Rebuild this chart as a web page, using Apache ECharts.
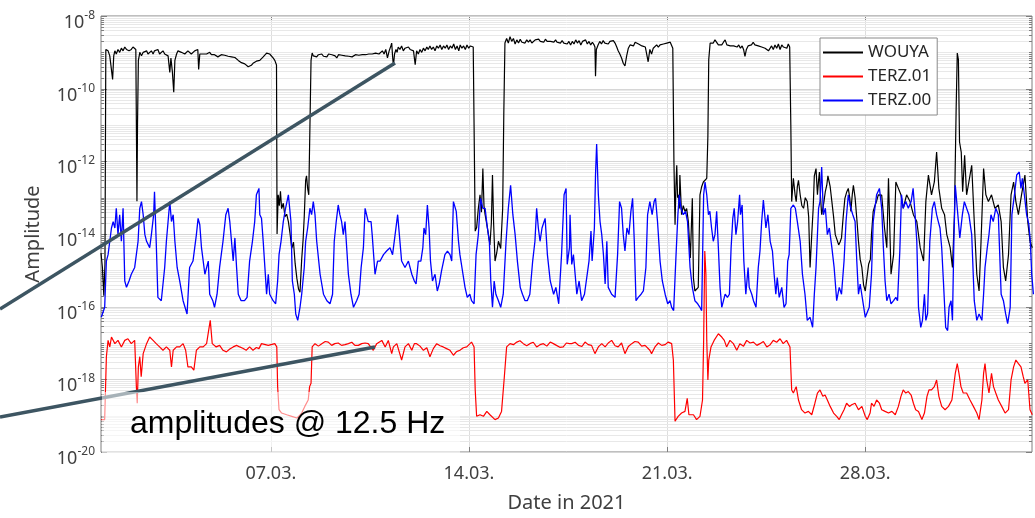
<!DOCTYPE html>
<html>
<head>
<meta charset="utf-8">
<script src="https://cdn.jsdelivr.net/npm/echarts@6/dist/echarts.min.js"></script>
<style>
html,body{margin:0;padding:0;background:#fff;}
#chart{width:1035px;height:518px;}
</style>
</head>
<body>
<div id="chart"></div>
<script>
// x values: day of March 2021 (1.0 = 01.03. 00:00)
const X_MIN = 1.0;
const X_MAX = 33.89;
const xTickDays = [7, 14, 21, 28];
const xTickLabels = ['07.03.', '14.03.', '21.03.', '28.03.'];
const yTickExps = [-20, -18, -16, -14, -12, -10, -8];
const seriesNames = ['WOUYA', 'TERZ.01', 'TERZ.00'];

const wouya = [
[1.00,3e-15],[1.05,1.2e-15],[1.10,2e-16],[1.14,1.5e-15],[1.17,1.2e-9],[1.25,1.1e-9],[1.31,8e-10],[1.37,9e-10],[1.41,1.8e-10],[1.45,8e-10],[1.49,1.1e-9],[1.54,9e-10],[1.60,1.2e-9],[1.66,1e-9],[1.72,1.3e-9],[1.78,1.1e-9],[1.84,1.4e-9],[1.90,1.2e-9],[1.95,1.3e-9],[1.99,1.1e-9],[2.07,1.2e-9],[2.13,1.4e-9],[2.19,1.3e-9],[2.23,1.2e-9],[2.25,1e-11],[2.27,8e-14],[2.29,1e-11],[2.32,6e-10],[2.35,8e-10],[2.37,1e-9],[2.43,8e-10],[2.49,1e-9],[2.55,9e-10],[2.61,1.1e-9],[2.66,9e-10],[2.72,1e-9],[2.78,1.1e-9],[2.84,9e-10],[2.89,1.1e-9],[2.95,1e-9],[3.01,1.2e-9],[3.07,9e-10],[3.13,1e-9],[3.19,1.1e-9],[3.25,9e-10],[3.31,1e-9],[3.37,8e-10],[3.43,2.8e-10],[3.47,7e-10],[3.52,3e-10],[3.57,8e-11],[3.61,6e-10],[3.67,9e-10],[3.72,1.1e-9],[3.78,1e-9],[3.84,1e-9],[3.90,1.1e-9],[3.96,9e-10],[4.02,1e-9],[4.07,1.1e-9],[4.13,1e-9],[4.19,9e-10],[4.25,1e-9],[4.31,1.1e-9],[4.37,1e-9],[4.42,1.2e-9],[4.45,3.4e-10],[4.49,9e-10],[4.55,1e-9],[4.61,9e-10],[4.67,1e-9],[4.73,9e-10],[4.79,9.5e-10],[4.84,1e-9],[4.90,8.6e-10],[4.95,9e-10],[5.01,8.6e-10],[5.07,8e-10],[5.13,7.5e-10],[5.19,8e-10],[5.25,8.6e-10],[5.31,7.8e-10],[5.37,8.3e-10],[5.43,7.5e-10],[5.49,7.8e-10],[5.55,7e-10],[5.61,7.5e-10],[5.67,6.8e-10],[5.73,7.2e-10],[5.79,6.5e-10],[5.85,6e-10],[5.90,5.6e-10],[5.96,5.2e-10],[6.02,5.5e-10],[6.08,4.8e-10],[6.14,4.4e-10],[6.20,4e-10],[6.25,3.6e-10],[6.31,4.4e-10],[6.37,5e-10],[6.43,5.2e-10],[6.49,5.7e-10],[6.55,5.5e-10],[6.61,6e-10],[6.67,6.6e-10],[6.73,7.5e-10],[6.79,8e-10],[6.85,9.5e-10],[6.91,1.05e-9],[6.96,9e-10],[7.02,8e-10],[7.08,7e-10],[7.14,6e-10],[7.20,4.5e-10],[7.22,1e-14],[7.26,1.2e-13],[7.30,6e-14],[7.34,1.5e-13],[7.38,5e-14],[7.44,7e-14],[7.50,3e-14],[7.56,3.5e-14],[7.62,2.2e-14],[7.68,1e-14],[7.74,4e-15],[7.80,6e-15],[7.86,1.5e-15],[7.92,6e-16],[7.98,3e-16],[8.03,2.5e-16],[8.09,2e-15],[8.14,7e-15],[8.18,3e-14],[8.23,3e-13],[8.26,4e-13],[8.30,1.8e-13],[8.34,1.2e-13],[8.38,1.2e-13],[8.42,6e-10],[8.46,9.6e-10],
[8.50,8e-10],[8.56,9e-10],[8.62,7.5e-10],[8.68,8.6e-10],[8.74,8e-10],[8.80,9e-10],[8.86,7.8e-10],[8.92,8.3e-10],[8.98,7.5e-10],[9.04,9e-10],[9.10,8e-10],[9.16,8.6e-10],[9.21,7.6e-10],[9.27,8e-10],[9.33,7e-10],[9.39,8.6e-10],[9.45,7.8e-10],[9.51,8.3e-10],[9.57,7.5e-10],[9.63,8e-10],[9.69,8.6e-10],[9.75,7.8e-10],[9.81,8.3e-10],[9.87,7.5e-10],[9.93,8e-10],[9.99,8.6e-10],[10.05,7.8e-10],[10.11,8.3e-10],[10.17,7.8e-10],[10.23,8.6e-10],[10.29,8e-10],[10.35,8.6e-10],[10.40,8e-10],[10.46,9e-10],[10.52,8.3e-10],[10.58,9e-10],[10.64,8.6e-10],[10.70,9.5e-10],[10.76,8.6e-10],[10.82,9e-10],[10.88,9.6e-10],[10.94,1.1e-9],[11.00,9e-10],[11.06,1.2e-9],[11.12,7e-10],[11.18,1.1e-9],[11.24,1.5e-9],[11.27,1.8e-9],[11.30,8e-10],[11.33,4.2e-10],[11.37,9e-10],[11.42,1.2e-9],[11.46,1e-9],[11.50,1.4e-9],[11.56,1.2e-9],[11.62,1.5e-9],[11.68,1.1e-9],[11.74,1.3e-9],[11.80,1.2e-9],[11.86,1.4e-9],[11.92,1.2e-9],[11.98,1.3e-9],[12.04,1.1e-9],
[12.10,4.6e-10],[12.15,1.1e-9],[12.21,9e-10],[12.27,1.2e-9],[12.33,1e-9],[12.39,1.3e-9],[12.45,1.1e-9],[12.51,1.4e-9],[12.56,1.2e-9],[12.62,1.5e-9],[12.68,1.2e-9],[12.74,1.4e-9],[12.80,1.1e-9],[12.86,1.5e-9],[12.92,1.3e-9],[12.98,1.6e-9],[13.04,1.2e-9],[13.10,1.5e-9],[13.16,1.3e-9],[13.22,1.6e-9],[13.28,1.2e-9],[13.34,1.5e-9],[13.40,1.3e-9],[13.46,1.7e-9],[13.52,1.2e-9],[13.58,1.5e-9],[13.64,1.1e-9],[13.69,1.6e-9],[13.75,1.3e-9],[13.81,1.5e-9],[13.87,1.2e-9],[13.93,1.6e-9],[13.99,1.3e-9],[14.05,1.5e-9],[14.11,1.6e-9],[14.15,1.4e-9],
[14.22,1.2e-14],[14.27,1.5e-14],[14.33,5e-14],[14.39,1.2e-13],[14.44,4e-14],[14.49,6.3e-13],[14.53,6e-14],[14.57,3.4e-14],[14.65,1.5e-14],[14.74,5e-15],[14.79,2e-14],[14.83,4.2e-13],[14.87,2e-14],[14.92,1.8e-15],[14.98,3e-15],[15.04,6.3e-15],[15.12,4e-15],[15.19,5e-14],[15.23,2e-11],[15.27,1.8e-9],
[15.33,2.4e-9],[15.39,1.8e-9],[15.45,2.7e-9],[15.51,2e-9],[15.57,2.4e-9],[15.63,1.7e-9],[15.69,2.2e-9],[15.75,1.8e-9],[15.81,2.3e-9],[15.87,1.9e-9],[15.92,2.1e-9],[15.98,1.8e-9],[16.04,2.2e-9],[16.10,1.9e-9],[16.16,2.2e-9],[16.22,1.8e-9],[16.28,2e-9],[16.34,2.2e-9],[16.40,2e-9],[16.46,2.3e-9],[16.52,2e-9],[16.58,2.2e-9],[16.64,1.9e-9],[16.70,2.3e-9],[16.76,2e-9],[16.82,2.2e-9],[16.88,2e-9],[16.94,2.1e-9],[17.00,1.9e-9],[17.06,2.2e-9],[17.11,1.9e-9],[17.17,2.1e-9],[17.23,1.8e-9],[17.29,2.1e-9],[17.35,1.8e-9],[17.41,2e-9],[17.47,1.7e-9],[17.53,2e-9],
[17.59,1.6e-9],[17.65,2e-9],[17.71,1.7e-9],[17.77,2.2e-9],[17.83,1.8e-9],[17.89,2.1e-9],[17.95,1.6e-9],[18.01,2e-9],[18.07,1.8e-9],[18.12,2.2e-9],[18.18,1.7e-9],[18.24,2e-9],[18.30,1.6e-9],[18.36,1.9e-9],[18.42,1.6e-9],[18.45,1.4e-9],[18.47,2.2e-10],[18.50,1.2e-9],[18.56,1.6e-9],[18.62,2e-9],[18.68,1.7e-9],[18.74,2.1e-9],[18.80,1.8e-9],[18.86,2e-9],[18.92,1.7e-9],[18.98,2e-9],[19.04,1.8e-9],[19.10,2.1e-9],[19.16,1.8e-9],[19.22,1.4e-9],[19.27,1.1e-9],[19.33,9e-10],[19.39,7e-10],[19.45,5e-10],[19.51,4.2e-10],[19.57,8e-10],[19.63,1.3e-9],[19.69,1.6e-9],[19.75,1.8e-9],[19.81,1.5e-9],[19.87,1.9e-9],[19.93,2e-9],[19.99,1.7e-9],[20.05,1.9e-9],[20.11,1.5e-9],[20.17,1.7e-9],[20.23,1.4e-9],[20.29,8e-10],[20.33,5.5e-10],[20.39,1.2e-9],[20.45,9e-10],[20.51,1.3e-9],[20.57,1.2e-9],[20.63,1.6e-9],[20.69,1.4e-9],[20.75,1.6e-9],[20.81,1.5e-9],[20.87,1.7e-9],[20.93,1.7e-9],[20.99,1.8e-9],[21.05,1.8e-9],[21.11,1.9e-9],[21.17,1.7e-9],[21.20,1.3e-9],
[21.24,1e-12],[21.28,1.8e-14],[21.31,2e-13],[21.34,7.8e-13],[21.37,1e-13],[21.40,1.2e-13],[21.43,5e-14],[21.45,4.2e-13],[21.51,3.4e-14],[21.57,6e-14],[21.63,4.2e-14],[21.69,5e-14],[21.75,2.2e-14],[21.82,2.2e-15],[21.89,9.6e-14],[21.93,6e-16],[21.98,2.7e-16],[22.04,3e-16],[22.10,3.4e-16],[22.16,1.2e-13],[22.22,2e-13],[22.28,2.7e-13],[22.34,3e-13],[22.40,3.4e-13],[22.44,5e-12],[22.47,6.3e-10],[22.52,1.8e-9],[22.57,2e-9],[22.63,1.8e-9],[22.69,2.2e-9],[22.75,2e-9],[22.81,1.6e-9],[22.87,1.8e-9],[22.93,1.6e-9],[22.99,1.9e-9],
[23.05,2.2e-9],[23.11,1.6e-9],[23.17,1.8e-9],[23.23,1.5e-9],[23.29,1.7e-9],[23.35,1.5e-9],[23.41,1.6e-9],[23.47,1.4e-9],[23.53,1.6e-9],[23.59,1.3e-9],[23.65,1.5e-9],[23.70,1.2e-9],[23.75,7.8e-10],[23.80,1.2e-9],[23.86,1.5e-9],[23.92,1.7e-9],[23.98,1.6e-9],[24.04,1.9e-9],[24.10,1.6e-9],[24.16,1.7e-9],[24.22,1.5e-9],[24.28,1.6e-9],[24.34,1.4e-9],[24.40,1.5e-9],[24.46,1.3e-9],[24.52,1.4e-9],[24.58,1.1e-9],[24.64,1.3e-9],[24.69,1.5e-9],[24.75,1.2e-9],[24.81,1.6e-9],[24.87,1.3e-9],[24.93,1.7e-9],[24.99,1.2e-9],[25.05,1.6e-9],[25.11,1.4e-9],[25.17,1.5e-9],[25.23,1.3e-9],[25.28,1.7e-9],[25.33,1.4e-9],
[25.37,1e-11],[25.40,7.8e-14],[25.46,3.4e-13],[25.52,1.2e-13],[25.56,7.8e-14],[25.60,2e-13],[25.64,3e-13],[25.70,1.2e-13],[25.76,6e-14],[25.82,5.1e-14],[25.88,1e-13],[25.95,7.8e-14],[26.00,3e-14],[26.05,1.2e-15],[26.11,1e-14],[26.16,5.1e-14],[26.20,4e-13],[26.26,6.3e-13],[26.31,1.2e-13],[26.35,3e-13],[26.38,5.1e-13],[26.42,1e-13],[26.46,3.4e-14],[26.50,5e-14],[26.54,7.8e-14],[26.59,1.5e-13],[26.64,2.2e-13],[26.68,4e-13],[26.73,4.2e-13],[26.76,2e-13],[26.82,7.8e-14],[26.88,3e-14],[26.94,9.6e-15],[27.00,7e-15],[27.06,5e-15],[27.11,6e-15],[27.16,7.8e-15],[27.22,3e-14],[27.28,9.6e-14],[27.34,1.4e-13],[27.40,1.8e-13],[27.45,1e-13],[27.49,4.2e-14],[27.54,1.2e-13],[27.58,2.2e-13],[27.64,1e-13],[27.70,2.7e-14],[27.76,6.3e-15],[27.82,2e-15],[27.88,1.2e-15],[27.94,4e-16],[28.00,2.7e-16],[28.06,3e-16],[28.12,1.5e-15],[28.18,2e-15],[28.22,1e-14],[28.28,4.2e-14],[28.34,6e-14],[28.40,8e-14],[28.46,1.2e-13],
[28.58,1.18e-13],[28.68,1.46e-14],[28.76,4.2e-15],[28.82,3.4e-13],[28.91,7.8e-16],[29.00,2.7e-15],[29.08,2.7e-13],[29.17,1.8e-13],[29.26,1.2e-13],[29.34,5.1e-14],[29.46,1.2e-13],[29.58,7.8e-14],[29.70,3.4e-14],[29.82,2.2e-14],[29.94,4.2e-15],[30.06,1.8e-15],[30.14,7.8e-14],[30.23,4.2e-13],[30.34,1.2e-13],[30.44,2.7e-13],[30.52,1.8e-12],[30.60,1.8e-13],[30.70,5.1e-14],[30.80,3.4e-14],[30.88,9.6e-15],[31.00,4.2e-15],[31.08,1.2e-15],[31.15,3.4e-14],[31.21,2.7e-11],[31.25,9.6e-10],[31.29,6.3e-10],[31.33,3.4e-12],[31.39,1.8e-12],[31.44,1.46e-13],[31.51,1.46e-12],[31.58,1.2e-13],[31.66,2.7e-13],[31.76,7.8e-13],[31.85,2.2e-14],[31.94,7.8e-16],[32.02,2.7e-16],[32.09,6.3e-15],[32.18,6.3e-13],[32.26,1.2e-13],[32.35,7.8e-14],[32.46,1.2e-13],[32.58,5.1e-14],[32.70,6.3e-14],[32.80,2.2e-14],[32.88,1.2e-15],[32.96,5.1e-16],[33.06,2.7e-15],[33.15,1.2e-13],[33.24,2.7e-13],[33.32,7.8e-14],[33.41,3.4e-14],[33.52,1.2e-13],[33.64,4.2e-13],[33.74,2.2e-14],[33.82,6.3e-15],[33.90,4.2e-15]
];

const terz01 = [
[1.01,7.8e-20],[1.13,7.8e-20],[1.19,4.2e-18],[1.25,1.18e-17],[1.31,7.8e-18],[1.37,1.46e-17],[1.49,9.6e-18],[1.60,1.18e-17],[1.72,7.8e-18],[1.84,1.18e-17],[1.95,1.31e-17],[2.07,9.6e-18],[2.19,1.18e-17],[2.25,6.3e-19],[2.28,2.2e-19],[2.32,2.2e-18],[2.37,4.2e-18],[2.42,1.18e-18],[2.49,5.1e-18],[2.61,9.6e-18],[2.72,1.46e-17],[2.84,1.18e-17],[2.95,9.6e-18],[3.07,7.8e-18],[3.19,6.3e-18],[3.31,7.8e-18],[3.43,6.3e-18],[3.49,2.2e-18],[3.55,6.3e-18],[3.67,7.8e-18],[3.78,7.8e-18],[3.90,9.6e-18],[3.99,6.3e-18],[4.07,2.2e-18],[4.19,2.2e-18],[4.28,1.8e-18],[4.37,6.3e-18],[4.49,7.8e-18],[4.61,7.8e-18],[4.73,9.6e-18],[4.82,2.7e-17],[4.86,4.2e-17],[4.93,9.6e-18],[5.07,7.8e-18],[5.19,8.6e-18],[5.31,6.3e-18],[5.43,5.7e-18],[5.55,6.8e-18],[5.67,7.8e-18],[5.79,8.6e-18],[5.90,7.8e-18],[6.01,7.2e-18],[6.13,6.3e-18],[6.25,7.8e-18],[6.37,6.3e-18],[6.49,7.5e-18],[6.58,7e-18],
[6.67,9.6e-18],[6.91,8.6e-18],[7.14,9.6e-18],[7.21,7.8e-18],[7.24,6.3e-19],[7.29,1.46e-19],[7.38,1.18e-19],[7.56,1.06e-19],[7.74,9.6e-20],[7.92,8.6e-20],[8.09,1.18e-19],[8.20,1.8e-19],[8.32,2.7e-19],[8.37,6.3e-19],[8.42,7.8e-19],[8.46,7.8e-18],[8.56,9.6e-18],[8.68,8.2e-18],[8.80,9.6e-18],[8.92,1.1e-17],[9.03,1.06e-17],[9.15,8.6e-18],[9.26,9.6e-18],[9.38,1e-17],[9.50,8.6e-18],[9.62,9e-18],[9.74,9.6e-18],[9.86,1.05e-17],[9.97,8.6e-18],[10.09,8.6e-18],[10.21,9.6e-18],[10.33,1e-17],[10.44,9.6e-18],[10.62,6.3e-18],[10.74,9.6e-18],[10.92,1.18e-17],[11.04,7.8e-18],[11.15,1.18e-17],[11.27,5.1e-18],[11.33,7.8e-18],[11.45,9.6e-18],[11.62,3.4e-18],[11.74,7.8e-18],[11.86,9.6e-18],[11.98,6.3e-18],[12.07,9.6e-18],
[12.15,9.6e-18],[12.27,8.2e-18],[12.39,6.3e-18],[12.51,7.4e-18],[12.62,4.2e-18],[12.74,7e-18],[12.86,9.6e-18],[12.98,8.4e-18],[13.09,7.8e-18],[13.21,7e-18],[13.33,6.3e-18],[13.45,4.6e-18],[13.56,5.8e-18],[13.68,6.3e-18],[13.80,7.4e-18],[13.92,7.8e-18],[14.09,1.06e-17],[14.18,7.8e-18],[14.22,5.1e-19],[14.27,9.6e-20],[14.39,1.06e-19],[14.51,9.6e-20],[14.63,1.31e-19],[14.74,1.06e-19],[14.92,7.8e-20],[15.04,8.6e-20],[15.15,1.31e-19],[15.24,9.6e-19],[15.33,7.8e-18],[15.45,9.6e-18],[15.57,9e-18],[15.69,1.06e-17],[15.80,1.15e-17],[15.92,9.6e-18],[16.04,8.4e-18],[16.15,9.6e-18],[16.27,1.05e-17],[16.39,7.8e-18],[16.51,9e-18],[16.63,9.6e-18],[16.75,8.2e-18],[16.87,1.06e-17],[16.98,9.6e-18],[17.09,8.6e-18],[17.21,7.6e-18],[17.33,7.8e-18],[17.44,1e-17],[17.55,9.6e-18],
[17.63,9.6e-18],[17.75,1.05e-17],[17.87,8.6e-18],[17.99,8e-18],[18.10,1.06e-17],[18.21,9e-18],[18.33,8.6e-18],[18.45,5.1e-18],[18.57,7.8e-18],[18.69,9.6e-18],[18.81,7.8e-18],[18.92,1e-17],[19.04,1.18e-17],[19.16,8.4e-18],[19.27,7.8e-18],[19.39,1e-17],[19.51,5.1e-18],[19.63,8e-18],[19.75,9.6e-18],[19.86,1.1e-17],[19.98,1.06e-17],[20.10,8.2e-18],[20.22,8.6e-18],[20.39,6.3e-18],[20.45,5.1e-18],[20.57,7.8e-18],[20.69,1e-17],[20.81,8.6e-18],[20.93,9e-18],[21.04,1.06e-17],[21.16,9.6e-18],[21.22,3.4e-18],[21.28,7e-20],[21.39,9.6e-20],[21.51,1.18e-19],[21.63,1.31e-19],[21.71,3e-19],[21.77,1.06e-19],[21.93,1.06e-19],[22.04,7.8e-20],[22.16,9.6e-20],[22.25,2.7e-19],[22.29,1.18e-17],[22.33,3.4e-15],[22.37,7.8e-16],[22.40,1.18e-17],[22.44,9.6e-19],[22.47,3.4e-18],[22.55,7.8e-18],[22.66,1.18e-17],[22.81,1.8e-17],[22.93,1.46e-17],[23.02,1.18e-17],
[23.10,7.8e-18],[23.22,1.18e-17],[23.34,9.6e-18],[23.46,6.3e-18],[23.57,9.6e-18],[23.70,8.2e-18],[23.81,1.18e-17],[23.93,1e-17],[24.05,1.06e-17],[24.17,8.6e-18],[24.28,9.6e-18],[24.40,1.1e-17],[24.52,7.8e-18],[24.64,9e-18],[24.75,1.18e-17],[24.87,1.05e-17],[24.99,1.31e-17],[25.10,9.6e-18],[25.22,1.18e-17],[25.34,7.8e-18],[25.40,5.1e-19],[25.46,4.2e-19],[25.56,6.3e-19],[25.64,2.7e-19],[25.75,1.46e-19],[25.87,1.18e-19],[25.99,1.31e-19],[26.11,1.06e-19],[26.22,2.2e-19],[26.31,4.2e-19],[26.40,5.1e-19],[26.50,3.4e-19],[26.58,3.7e-19],[26.66,2.7e-19],[26.76,1.8e-19],[26.88,1.18e-19],[26.99,9.6e-20],[27.08,7.8e-20],[27.16,1.06e-19],[27.25,1.46e-19],[27.34,2.2e-19],[27.44,1.8e-19],[27.52,2e-19],[27.64,2.2e-19],[27.76,1.46e-19],[27.88,1.8e-19],[28.00,9.6e-20],[28.07,7.8e-20],[28.17,1.18e-19],[28.22,2.2e-19],[28.31,1.8e-19],[28.40,2.7e-19],[28.50,2.2e-19],
[28.58,1.46e-19],[28.70,1.31e-19],[28.82,1.18e-19],[28.94,1.31e-19],[29.06,1.06e-19],[29.17,1.8e-19],[29.26,3.4e-19],[29.34,5.1e-19],[29.43,4.2e-19],[29.52,4.6e-19],[29.62,3.7e-19],[29.70,2.2e-19],[29.78,1.46e-19],[29.88,1.31e-19],[30.00,7.8e-20],[30.09,1.18e-19],[30.18,3.4e-19],[30.25,5.1e-19],[30.34,5.1e-19],[30.44,6.3e-19],[30.52,9.6e-19],[30.60,3.4e-19],[30.70,1.8e-19],[30.82,1.46e-19],[30.94,1.8e-19],[31.06,2.7e-19],[31.18,1.46e-18],[31.25,2.7e-18],[31.31,1.46e-18],[31.38,6.3e-19],[31.46,4.2e-19],[31.58,4.2e-19],[31.70,2.7e-19],[31.82,1.8e-19],[31.94,1.18e-19],[32.02,7.8e-20],[32.12,2.7e-19],[32.18,1.46e-18],[32.23,2.7e-18],[32.29,9.6e-19],[32.37,4.2e-19],[32.46,1.46e-18],[32.53,6.3e-19],[32.61,4.2e-19],[32.70,2.7e-19],[32.82,1.8e-19],[32.94,1.18e-19],[33.06,1.46e-19],[33.15,9.6e-19],[33.24,2.2e-18],[33.32,3.4e-18],[33.41,2.7e-18],[33.50,2.2e-18],[33.58,1.18e-18],[33.64,7.8e-19],[33.74,9.6e-19],[33.82,1.46e-19],[33.90,1.06e-19]
];

const terz00 = [
[1.01,5.1e-17],[1.13,9.6e-17],[1.19,1.8e-15],[1.25,2.7e-15],[1.31,6.3e-15],[1.37,1.46e-14],[1.43,2.2e-14],[1.49,1.46e-14],[1.54,5.1e-14],[1.60,9.6e-15],[1.66,3.4e-14],[1.72,6.3e-15],[1.78,5.1e-14],[1.84,5.1e-16],[1.90,3.4e-16],[1.99,5.1e-16],[2.07,7.8e-16],[2.19,1.2e-15],[2.31,6.3e-15],[2.37,5.1e-14],[2.43,7.8e-14],[2.49,3.4e-14],[2.55,9.6e-15],[2.61,6.3e-15],[2.72,4.2e-15],[2.78,9.6e-15],[2.86,3.4e-14],[2.89,1.46e-13],[2.95,6.3e-15],[3.01,1.8e-16],[3.13,1.46e-16],[3.25,1.2e-15],[3.31,6.3e-15],[3.37,2.2e-14],[3.43,7.8e-14],[3.49,2.2e-14],[3.55,3.4e-14],[3.61,6.3e-15],[3.69,1.2e-15],[3.78,5.1e-16],[3.90,1.46e-16],[4.04,6.3e-17],[4.13,1.2e-15],[4.25,1.8e-15],[4.37,9.6e-15],[4.43,2.7e-14],[4.49,1.8e-14],[4.55,4.2e-15],[4.67,7.8e-16],[4.79,1.8e-15],[4.84,2.2e-16],[4.95,1.46e-16],[5.01,9.6e-17],[5.10,2.2e-16],[5.19,1.2e-15],[5.31,6.3e-15],[5.41,3.4e-14],[5.49,5.1e-14],[5.55,2.2e-14],[5.61,6.3e-15],[5.67,1.8e-15],[5.73,7.8e-15],[5.79,1.2e-15],[5.85,2.2e-16],[5.95,1.46e-16],[6.07,1.46e-16],[6.16,1.8e-16],[6.25,1.8e-15],[6.35,6.3e-15],[6.43,2.2e-14],[6.49,1.2e-13],[6.58,1.8e-13],
[6.61,3.4e-14],[6.67,2.7e-14],[6.73,6.3e-15],[6.79,1.2e-15],[6.85,2.2e-16],[6.91,7.8e-16],[6.96,2.2e-16],[7.08,1.46e-16],[7.17,1.2e-16],[7.24,5.1e-16],[7.29,2.7e-15],[7.36,6.3e-15],[7.44,2.2e-14],[7.52,5.1e-14],[7.62,1.2e-13],[7.71,2.2e-14],[7.76,5.1e-16],[7.83,2.2e-16],[7.88,6.3e-17],[7.95,4.2e-17],[8.03,9.6e-17],[8.09,2.2e-16],[8.18,1.2e-15],[8.23,6.3e-15],[8.30,1.46e-14],[8.38,5.1e-14],[8.44,3.4e-14],[8.50,7.8e-14],[8.56,3.4e-14],[8.62,6.3e-15],[8.74,7.8e-16],[8.86,2.2e-16],[8.98,1.46e-16],[9.09,1.2e-16],[9.18,2.2e-16],[9.24,6.3e-15],[9.31,2.2e-14],[9.38,6.3e-14],[9.44,3.4e-14],[9.50,2.2e-14],[9.56,9.6e-15],[9.62,2.2e-14],[9.68,4.2e-15],[9.74,7.8e-16],[9.83,2.2e-16],[9.92,9.6e-17],[10.03,1.46e-16],[10.12,2.2e-16],[10.19,1.2e-15],[10.27,4.2e-15],[10.33,5.1e-14],[10.44,2.2e-14],[10.54,2.2e-14],[10.58,9.6e-15],[10.68,7.8e-16],[10.77,1.8e-15],[10.86,1.8e-15],[10.98,2.7e-15],[11.09,3.4e-15],[11.21,4.2e-15],[11.30,2.7e-15],[11.39,9.6e-15],[11.48,3.4e-14],[11.56,6.3e-15],[11.62,1.8e-15],[11.74,1.2e-15],[11.86,1.8e-15],[11.98,7.8e-16],[12.07,5.1e-16],
[12.13,4.2e-16],[12.21,1.8e-15],[12.30,1.8e-15],[12.37,4.2e-15],[12.41,1.46e-14],[12.47,9.6e-15],[12.53,6.3e-14],[12.59,1.46e-14],[12.64,1.8e-15],[12.71,5.1e-16],[12.80,7.8e-16],[12.88,2.7e-16],[12.95,4.2e-16],[13.03,9.6e-16],[13.15,2.7e-15],[13.24,3.4e-15],[13.33,2.7e-15],[13.39,1.8e-15],[13.45,7.8e-14],[13.55,4.2e-14],[13.63,6.3e-15],[13.68,2.7e-15],[13.77,9.6e-16],[13.86,3.4e-16],[13.94,1.8e-16],[14.03,2.2e-16],[14.09,1.46e-16],[14.18,1.2e-16],[14.25,2.7e-15],[14.33,9.6e-15],[14.41,9.6e-14],[14.49,5.1e-14],[14.57,5.1e-14],[14.65,1.46e-14],[14.72,6.3e-15],[14.77,5.1e-16],[14.83,9.6e-17],[14.89,5.1e-16],[14.95,2.2e-16],[15.04,1.46e-16],[15.12,9.6e-17],[15.21,2.2e-16],[15.31,6.3e-15],[15.39,5.1e-14],[15.47,2.2e-13],[15.55,3.4e-14],[15.63,9.6e-15],[15.71,1.8e-15],[15.81,3.4e-16],[15.89,2.2e-16],[15.98,1.46e-16],[16.06,1.46e-16],[16.15,2.2e-16],[16.25,1.8e-15],[16.33,6.3e-15],[16.39,5.1e-14],[16.45,1.46e-14],[16.51,6.3e-15],[16.58,1.46e-14],[16.69,2.7e-14],[16.77,2.7e-15],[16.87,5.1e-16],[16.99,2.2e-16],[17.07,3.4e-16],[17.17,1.2e-16],[17.27,2.7e-15],[17.36,1.2e-13],[17.43,1.8e-13],[17.47,1.46e-15],[17.55,4.2e-15],
[17.57,3.4e-14],[17.63,1.46e-15],[17.69,2.7e-15],[17.75,7.8e-16],[17.81,2.2e-16],[17.89,5.1e-16],[17.98,1.46e-16],[18.08,2.2e-16],[18.15,2.2e-16],[18.24,1.8e-15],[18.31,1.2e-14],[18.35,1.8e-15],[18.43,1.46e-14],[18.47,4.2e-13],[18.51,3e-12],[18.57,1.2e-13],[18.63,2.2e-14],[18.69,9.6e-15],[18.75,2.7e-15],[18.81,4.2e-16],[18.87,6.3e-15],[18.92,3.4e-16],[19.04,2.2e-16],[19.16,1.8e-16],[19.25,2.7e-15],[19.32,7.8e-14],[19.39,5.1e-14],[19.45,9.6e-15],[19.51,3.4e-15],[19.58,1.46e-14],[19.65,9.6e-15],[19.72,4.2e-14],[19.78,9.6e-14],[19.84,6.3e-15],[19.90,1.46e-16],[19.98,1.8e-16],[20.08,2.2e-16],[20.16,2.7e-16],[20.25,1.2e-15],[20.31,3.4e-14],[20.39,7.8e-14],[20.47,3.4e-14],[20.54,7.8e-14],[20.59,9.6e-14],[20.66,2.2e-14],[20.75,1.8e-15],[20.83,5.1e-16],[20.93,2.2e-16],[21.02,1.2e-16],[21.10,1.46e-16],[21.16,9.6e-17],[21.23,7.8e-17],[21.31,2.2e-15],[21.38,3.4e-14],[21.43,1.2e-13],[21.49,5.1e-14],[21.57,3.4e-14],[21.65,4.2e-14],[21.72,2.2e-14],[21.81,1.2e-15],[21.89,3.4e-16],[21.98,1.46e-16],[22.08,1.2e-16],[22.16,9.6e-17],[22.22,7.8e-17],[22.29,1.2e-13],[22.34,2.7e-13],[22.40,1.2e-13],[22.46,3.4e-14],[22.51,4.2e-14],[22.57,1.46e-14],[22.63,6.3e-15],[22.69,9.6e-15],[22.75,4.2e-14],[22.81,4.2e-15],[22.87,3.4e-16],[22.93,9.6e-17],[23.02,1.8e-16],
[23.05,2.2e-16],[23.13,1.8e-16],[23.20,2.2e-16],[23.26,4.2e-15],[23.32,2.7e-14],[23.37,5.1e-14],[23.43,9.6e-15],[23.49,2.2e-14],[23.56,1.2e-13],[23.59,3.4e-14],[23.65,6.3e-14],[23.71,1.8e-15],[23.78,2.2e-16],[23.86,1.2e-15],[23.90,3.4e-16],[23.99,2.2e-16],[24.05,1.46e-16],[24.14,9.6e-17],[24.22,1.2e-15],[24.28,3.4e-15],[24.34,2.2e-14],[24.40,8.6e-14],[24.49,1.46e-14],[24.56,3.4e-14],[24.64,6.3e-15],[24.72,3.4e-15],[24.78,7.8e-16],[24.84,2.2e-16],[24.89,6.3e-16],[24.96,1.8e-16],[25.05,3.4e-16],[25.13,9.6e-17],[25.20,1.2e-16],[25.26,1.8e-15],[25.31,2.7e-15],[25.37,5.1e-14],[25.46,6.3e-14],[25.53,5.1e-14],[25.60,2.2e-14],[25.70,6.3e-15],[25.78,7.8e-16],[25.87,2.2e-16],[25.95,4.2e-17],[26.05,5.1e-17],[26.14,2.7e-17],[26.20,2.2e-16],[26.26,1.2e-15],[26.31,9.6e-15],[26.35,5.1e-14],[26.40,7.8e-14],[26.46,7e-13],[26.52,3.4e-14],[26.59,5.1e-14],[26.66,9.6e-15],[26.73,1.46e-14],[26.82,4.2e-15],[26.90,1.2e-15],[26.99,1.46e-16],[27.08,3.4e-16],[27.16,2.2e-16],[27.25,1.8e-15],[27.32,2.2e-14],[27.40,1.2e-13],[27.49,5.1e-14],[27.56,3.4e-14],[27.64,2.2e-14],[27.70,1.8e-15],[27.76,2.2e-16],[27.82,4.2e-16],[27.91,1.46e-16],[28.00,5.1e-17],[28.07,5.7e-17],[28.14,9.6e-17],[28.22,7.8e-16],[28.28,2.2e-14],[28.34,5.1e-14],[28.40,1.2e-13],[28.50,1.8e-13],
[28.58,5.1e-14],[28.64,4.2e-15],[28.70,5.1e-16],[28.76,1.46e-16],[28.84,2.2e-16],[28.91,1.2e-16],[29.00,1.46e-16],[29.08,1.8e-16],[29.14,1.46e-16],[29.22,3.4e-15],[29.28,1.2e-13],[29.34,5.1e-14],[29.43,7.8e-14],[29.52,5.1e-14],[29.62,7.8e-14],[29.69,1.8e-13],[29.76,3.4e-14],[29.82,6.3e-15],[29.88,9.6e-17],[29.96,2.7e-17],[30.02,4.2e-17],[30.09,2.2e-16],[30.14,4.2e-17],[30.20,6.3e-17],[30.28,6.3e-15],[30.37,5.1e-14],[30.44,7.8e-14],[30.52,3.4e-14],[30.58,2.2e-14],[30.64,1.46e-14],[30.70,4.2e-15],[30.76,5.1e-16],[30.84,2.7e-17],[30.91,2.2e-17],[30.96,9.6e-17],[31.03,1.46e-16],[31.08,4.2e-17],[31.13,6.3e-15],[31.18,2.2e-13],[31.27,3.4e-14],[31.34,7.8e-15],[31.43,3.4e-14],[31.50,7.8e-14],[31.58,5.1e-14],[31.66,3.4e-14],[31.76,9.6e-15],[31.85,1.46e-16],[31.94,4.2e-17],[32.02,6.3e-17],[32.12,4.2e-17],[32.18,2.2e-16],[32.23,1.2e-15],[32.31,4.2e-15],[32.37,9.6e-15],[32.44,3.4e-14],[32.52,2.2e-14],[32.61,5.1e-14],[32.70,3.4e-14],[32.80,2.2e-16],[32.88,1.46e-16],[32.96,6.3e-17],[33.03,3.4e-17],[33.12,9.6e-17],[33.18,3.4e-14],[33.27,1.2e-13],[33.35,4.2e-13],[33.44,5.1e-13],[33.50,1.8e-13],[33.55,3.4e-13],[33.62,1.2e-13],[33.70,3.4e-14],[33.78,1.8e-14],[33.83,6.3e-15],[33.88,7.8e-16],[33.94,2.2e-16]
];

// ---- y grid levels (log decades 1e-20..1e-8 with 2..9 minor levels) ----
const gridLevels = [];
for (let e = -20; e <= -8; e++) {
  for (let m = 1; m <= 9; m++) {
    if (e === -8 && m > 1) break;
    const labelled = (m === 1 && yTickExps.indexOf(e) >= 0) ? 1 : 0;
    gridLevels.push([X_MIN, Number(m + 'e' + e), labelled, e]);
  }
}

const FONT = '"Noto Sans", "Open Sans", sans-serif';
const chart = echarts.init(document.getElementById('chart'), null, {renderer: 'canvas'});

const option = {
  animation: false,
  backgroundColor: '#ffffff',
  grid: {left: 101, right: 3, top: 16, bottom: 62, show: true, borderColor: '#7f7f7f', borderWidth: 1, backgroundColor: 'transparent'},
  legend: {
    data: seriesNames,
    orient: 'vertical',
    left: 820, top: 38,
    itemWidth: 40, itemHeight: 2, itemGap: 7,
    icon: 'rect',
    padding: [6, 6, 6, 3],
    backgroundColor: '#ffffff',
    borderColor: '#8a8a8a', borderWidth: 1, borderRadius: 0,
    selectedMode: false,
    textStyle: {fontFamily: FONT, fontSize: 17, color: '#262626', padding: [0, 0, 0, 0]},
    z: 50
  },
  xAxis: [{
    type: 'value', min: X_MIN, max: X_MAX,
    name: 'Date in 2021', nameLocation: 'middle', nameGap: 41,
    nameTextStyle: {fontFamily: FONT, fontSize: 20, color: '#404040'},
    axisLine: {show: false},
    axisTick: {show: true, inside: true, length: 5, customValues: xTickDays, lineStyle: {color: '#7f7f7f'}},
    axisLabel: {
      customValues: xTickDays, margin: 13,
      fontFamily: FONT, fontSize: 18, color: '#404040',
      formatter: v => xTickLabels[xTickDays.indexOf(Math.round(v))] || ''
    },
    splitLine: {show: true, lineStyle: {color: '#dedede', width: 1}}
  }, {
    type: 'value', min: X_MIN, max: X_MAX, position: 'top',
    axisLine: {show: false},
    axisTick: {show: true, inside: true, length: 5, customValues: xTickDays, lineStyle: {color: '#7f7f7f'}},
    axisLabel: {show: false},
    splitLine: {show: false}
  }],
  yAxis: {
    type: 'log', logBase: 10, min: 1e-20, max: 1e-8,
    name: 'Amplitude', nameLocation: 'middle', nameGap: 58,
    nameTextStyle: {fontFamily: FONT, fontSize: 20, color: '#404040'},
    axisLine: {show: false}, axisTick: {show: false}, axisLabel: {show: false}, splitLine: {show: false}
  },
  series: [{
    type: 'custom',
    name: 'grid',
    silent: true,
    z: 1,
    clip: false,
    encode: {x: 0, y: 1},
    data: gridLevels,
    renderItem: function (params, api) {
      const cs = params.coordSys;
      const y = Math.round(api.coord([X_MIN, api.value(1)])[1]) + 0.5;
      const lab = api.value(2) === 1;
      const children = [
        {type: 'line', shape: {x1: cs.x, y1: y, x2: cs.x + cs.width, y2: y}, style: {stroke: lab ? '#d6d6d6' : '#e8e8e8', lineWidth: 1}},
        {type: 'line', shape: {x1: cs.x, y1: y, x2: cs.x + (lab ? 6 : 3), y2: y}, style: {stroke: '#7f7f7f', lineWidth: 1}},
        {type: 'line', shape: {x1: cs.x + cs.width, y1: y, x2: cs.x + cs.width - (lab ? 6 : 3), y2: y}, style: {stroke: '#7f7f7f', lineWidth: 1}}
      ];
      if (lab) {
        children.push({
          type: 'text', x: cs.x - 6, y: y + 4,
          style: {
            text: '{b|10}{s|' + api.value(3) + '}',
            align: 'right', verticalAlign: 'middle',
            rich: {
              b: {fontFamily: FONT, fontSize: 18, fill: '#404040', lineHeight: 22, verticalAlign: 'bottom'},
              s: {fontFamily: FONT, fontSize: 12, fill: '#404040', lineHeight: 12, verticalAlign: 'top'}
            }
          }
        });
      }
      return {type: 'group', children: children};
    }
  }, {
    name: 'WOUYA', type: 'line', data: wouya, showSymbol: false, symbol: 'none', z: 3,
    lineStyle: {color: '#000000', width: 1.2}, itemStyle: {color: '#000000'}
  }, {
    name: 'TERZ.01', type: 'line', data: terz01, showSymbol: false, symbol: 'none', z: 4,
    lineStyle: {color: '#ff0000', width: 1.2}, itemStyle: {color: '#ff0000'}
  }, {
    name: 'TERZ.00', type: 'line', data: terz00, showSymbol: false, symbol: 'none', z: 5,
    lineStyle: {color: '#0000ff', width: 1.3}, itemStyle: {color: '#0000ff'}
  }],
  graphic: [
    {type: 'line', z: 100, silent: true, shape: {x1: 0, y1: 309, x2: 395, y2: 63}, style: {stroke: '#3d5562', lineWidth: 3.5}},
    {type: 'line', z: 100, silent: true, shape: {x1: 0, y1: 417, x2: 375, y2: 347}, style: {stroke: '#3d5562', lineWidth: 3.5}},
    {type: 'rect', z: 101, silent: true, shape: {x: 102, y: 392, width: 358, height: 63}, style: {fill: 'rgba(255,255,255,0.55)'}},
    {type: 'text', z: 102, silent: true, x: 130, y: 424, style: {text: 'amplitudes @ 12.5 Hz', font: '32px "Liberation Sans", Arial, sans-serif', fill: '#000000', verticalAlign: 'middle', align: 'left'}}
  ]
};
chart.setOption(option);
</script>
</body>
</html>
